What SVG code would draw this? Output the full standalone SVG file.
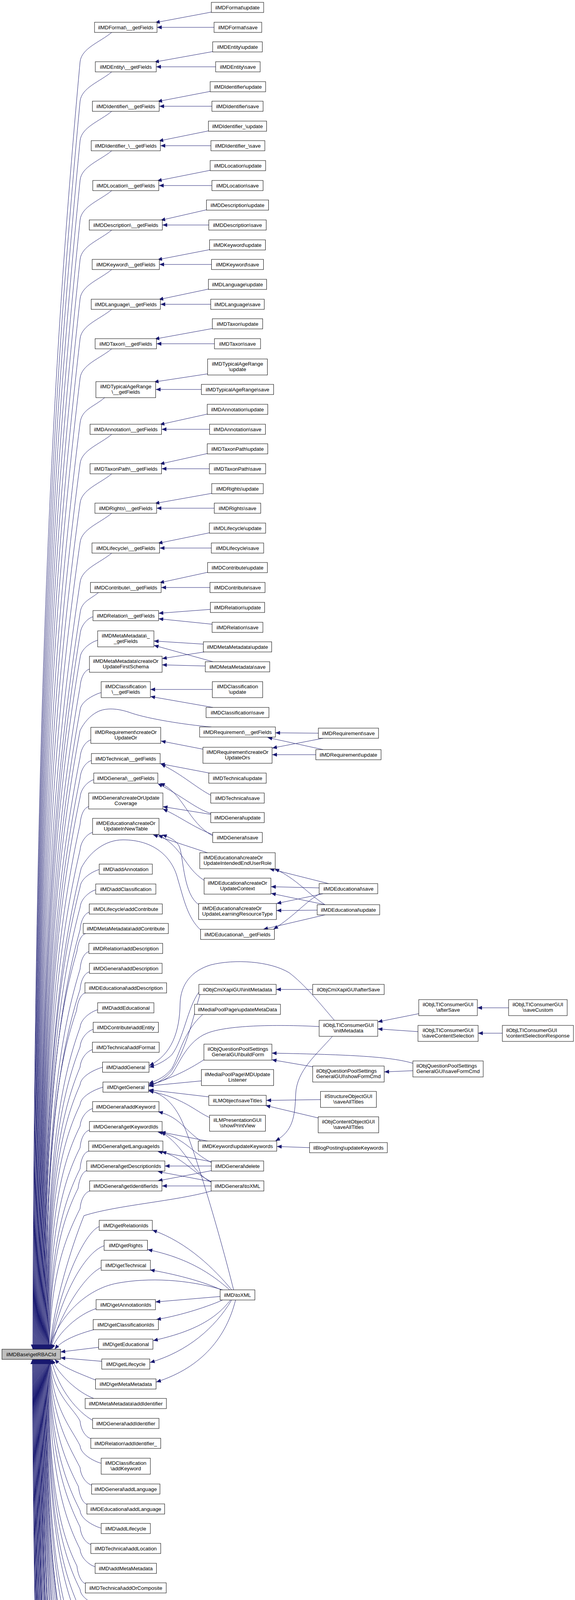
<svg xmlns="http://www.w3.org/2000/svg" width="1472" height="6139" viewBox="0 0 1472 6139">
<style>
rect{fill:#fff;stroke:#000;stroke-width:1}
#root rect{fill:#bfbfbf}
text{font-family:"Liberation Sans",Arial,sans-serif;font-size:13.33px;text-anchor:middle;fill:#000}
text.l{text-anchor:start}
#edges path{fill:none;stroke:#191970;stroke-width:1;marker-end:url(#a)}
</style>
<defs><marker id="a" viewBox="0 0 12 10" refX="12" refY="5" markerWidth="12" markerHeight="10" markerUnits="userSpaceOnUse" orient="auto"><path d="M0,0L12,5L0,10z" fill="#191970"/></marker></defs>
<rect x="0" y="0" width="1472" height="6139" style="fill:#fff;stroke:none"/>
<g id="edges">
<path d="M541,31 L397,58"/><path d="M548,70 L402,70"/>
<path d="M545,132 L395,159"/><path d="M552,171 L400,171"/>
<path d="M538,234 L403,260"/><path d="M543,272 L408,272"/>
<path d="M534,335 L406,361"/><path d="M540,373 L411,373"/>
<path d="M538,436 L402,463"/><path d="M543,475 L407,475"/>
<path d="M529,537 L411,564"/><path d="M535,576 L416,576"/>
<path d="M537,639 L403,665"/><path d="M542,677 L408,677"/>
<path d="M534,740 L406,767"/><path d="M540,779 L411,779"/>
<path d="M544,841 L396,868"/><path d="M549,880 L401,880"/>
<path d="M532,957 L394,978"/><path d="M516,997 L399,997"/>
<path d="M531,1060 L409,1087"/><path d="M537,1099 L414,1099"/>
<path d="M531,1161 L409,1188"/><path d="M536,1200 L414,1200"/>
<path d="M542,1263 L396,1289"/><path d="M549,1301 L401,1301"/>
<path d="M536,1364 L404,1391"/><path d="M541,1403 L409,1403"/>
<path d="M532,1465 L408,1492"/><path d="M538,1504 L413,1504"/>
<path d="M286,83 C256,108 209,123 205,158 C145,817 89,1641 84,3454"/>
<path d="M286,184 C256,209 209,224 205,259 C145,898 90,1697 85,3454"/>
<path d="M286,285 C256,310 209,325 205,360 C145,979 91,1752 86,3454"/>
<path d="M286,386 C256,411 209,426 205,461 C145,1060 92,1808 87,3454"/>
<path d="M286,488 C256,513 209,528 205,563 C145,1141 93,1864 88,3454"/>
<path d="M286,589 C256,614 209,629 205,664 C145,1222 94,1920 89,3454"/>
<path d="M286,690 C256,715 209,730 205,765 C145,1303 95,1975 90,3454"/>
<path d="M286,792 C256,817 209,832 205,867 C145,1384 96,2031 91,3454"/>
<path d="M286,893 C256,918 209,933 205,968 C145,1465 97,2087 92,3454"/>
<path d="M268,1018 C238,1043 209,1048 205,1083 C145,1557 98,2150 93,3454"/>
<path d="M286,1112 C256,1137 209,1152 205,1187 C145,1640 99,2207 94,3454"/>
<path d="M286,1213 C256,1238 209,1253 205,1288 C145,1721 100,2263 95,3454"/>
<path d="M286,1314 C256,1339 209,1354 205,1389 C145,1802 101,2318 96,3454"/>
<path d="M286,1416 C256,1441 209,1456 205,1491 C145,1884 102,2374 97,3454"/>
<path d="M252,1517 C230,1535 208,1540 205,1570 C145,1947 103,2418 98,3454"/>
<path d="M238,1579 C226,1582 207,1599 205,1624 C145,1990 104,2448 99,3454"/>
<path d="M250,1639 C238,1642 207,1659 205,1684 C145,2038 105,2481 100,3454"/>
<path d="M229,1713 C217,1716 207,1733 205,1758 C145,2097 106,2521 101,3454"/>
<path d="M259,1773 C247,1776 207,1793 205,1818 C145,2145 107,2554 102,3454"/>
<path d="M541,1861 C470,1855 380,1840 338,1826 C300,1812 270,1812 250,1822 C230,1832 215,1850 205,1870 C145,2187 108,2583 103,3454"/>
<path d="M233,1894 C221,1897 207,1914 205,1939 C145,2242 109,2621 104,3454"/>
<path d="M234,1947 C222,1950 207,1967 205,1992 C145,2284 110,2650 105,3454"/>
<path d="M240,1996 C228,1999 207,2016 205,2041 C145,2324 111,2677 106,3454"/>
<path d="M227,2065 C215,2068 207,2085 205,2110 C145,2379 112,2715 107,3454"/>
<path d="M237,2131 C225,2134 207,2151 205,2176 C145,2432 113,2751 108,3454"/>
<path d="M514,2381 C480,2350 470,2300 455,2250 C440,2190 390,2150 315,2150 C270,2150 230,2180 208,2222 C148,2468 114,2776 109,3454"/>
<path d="M254,2226 C242,2229 207,2246 205,2271 C145,2508 115,2803 110,3454"/>
<path d="M245,2278 C233,2281 207,2298 205,2323 C145,2549 116,2832 111,3454"/>
<path d="M229,2335 C217,2338 207,2355 205,2380 C145,2595 117,2863 112,3454"/>
<path d="M219,2390 C207,2393 199,2415 197,2435 C137,2639 118,2894 113,3454"/>
<path d="M228,2436 C216,2439 207,2456 205,2481 C145,2676 119,2919 114,3454"/>
<path d="M229,2488 C217,2491 207,2508 205,2533 C145,2717 120,2947 115,3454"/>
<path d="M218,2542 C206,2545 198,2567 196,2587 C136,2760 121,2977 116,3454"/>
<path d="M250,2585 C238,2588 207,2605 205,2630 C145,2795 122,3001 117,3454"/>
<path d="M239,2635 C227,2638 207,2655 205,2680 C145,2835 123,3028 118,3454"/>
<path d="M237,2687 C225,2690 207,2707 205,2732 C145,2876 124,3057 119,3454"/>
<path d="M263,2732 C251,2735 207,2752 205,2777 C145,2912 125,3082 120,3454"/>
<path d="M264,2783 C252,2786 207,2803 205,2828 C145,2953 126,3110 121,3454"/>
<path d="M237,2838 C225,2841 207,2858 205,2883 C148,2997 127,3140 122,3454"/>
<path d="M229,2893 C217,2896 207,2913 205,2938 C153,3041 128,3170 123,3454"/>
<path d="M227,2947 C215,2950 207,2967 205,2992 C159,3084 129,3200 124,3454"/>
<path d="M222,2997 C210,3000 202,3022 200,3042 C159,3124 130,3227 125,3454"/>
<path d="M230,3049 C218,3052 207,3069 205,3094 C169,3166 131,3256 126,3454"/>
<path d="M541,3049 C450,3075 300,3085 215,3112 C180,3200 140,3330 127,3454"/>
<path d="M254,3140 C215,3155 150,3300 128,3454"/>
<path d="M267,3189 C215,3205 150,3330 129,3454"/>
<path d="M259,3245 C215,3265 150,3370 130,3454"/>
<path d="M570,3302 C480,3275 380,3270 300,3285 C220,3300 150,3370 125,3454"/>
<path d="M246,3350 C200,3365 150,3410 132,3454"/>
<path d="M240,3404 C200,3415 160,3430 140,3454"/>
<path d="M253,3449 L155,3461"/>
<path d="M261,3485 L155,3476"/>
<path d="M245,3533 C200,3515 160,3500 140,3480"/>
<path d="M240,3580 C200,3565 150,3520 133,3480"/>
<path d="M237,3636 C200,3615 150,3560 131,3480"/>
<path d="M233,3683 C221,3680 207,3663 205,3638 C189,3606 134,3567 129,3480"/>
<path d="M259,3746 C247,3743 207,3726 205,3701 C183,3657 133,3602 128,3480"/>
<path d="M235,3802 C223,3799 207,3782 205,3757 C177,3702 132,3632 127,3480"/>
<path d="M223,3851 C211,3848 203,3826 201,3806 C168,3741 131,3659 126,3480"/>
<path d="M259,3912 C247,3909 207,3892 205,3867 C166,3790 130,3693 125,3480"/>
<path d="M233,3954 C221,3951 207,3934 205,3909 C162,3823 129,3716 124,3480"/>
<path d="M244,4011 C232,4008 207,3991 205,3966 C156,3869 128,3747 123,3480"/>
<path d="M219,4054 C207,4051 199,4029 197,4009 C144,3903 127,3771 122,3480"/>
<path d="M261,4114 C249,4111 207,4094 205,4069 C146,3951 126,3804 121,3480"/>
<path d="M495,4188 C400,4186 300,4180 254,4168 C230,4160 215,4145 205,4120 C145,3992 125,3832 120,3480"/>
<path d="M230,4204 C218,4201 207,4184 205,4159 C145,4023 124,3853 119,3480"/>
<path d="M489,4268 C420,4276 320,4275 270,4264 C235,4255 212,4235 200,4215 C140,4068 123,3884 118,3480"/>
<path d="M808,4309 C700,4330 500,4335 380,4326 C300,4320 240,4300 200,4256 C140,4101 122,3907 117,3480"/>
<path d="M220,4357 C208,4354 200,4332 198,4312 C138,4146 121,3938 116,3480"/>
<path d="M266,4421 C254,4418 207,4401 205,4376 C145,4197 120,3973 115,3480"/>
<path d="M235,4464 C223,4461 207,4444 205,4419 C145,4231 119,3996 114,3480"/>
<path d="M259,4524 C247,4521 207,4504 205,4479 C145,4279 118,4029 113,3480"/>
<path d="M257,4588 C245,4585 207,4568 205,4543 C145,4330 117,4065 112,3480"/>
<path d="M230,4633 C218,4630 207,4613 205,4588 C145,4366 116,4089 111,3480"/>
<path d="M270,4706 C258,4703 207,4686 205,4661 C145,4425 115,4130 110,3480"/>
<path d="M272,4757 C260,4754 207,4737 205,4712 C145,4466 114,4158 109,3480"/>
<path d="M221,4797 C209,4794 201,4772 199,4752 C139,4498 113,4180 108,3480"/>
<path d="M538,4880 C450,4870 300,4860 240,4845 C215,4838 205,4825 200,4810 C140,4544 112,4212 107,3480"/>
<path d="M230,4895 C218,4892 207,4875 205,4850 C145,4576 111,4234 106,3480"/>
<path d="M221,4946 C209,4943 201,4921 199,4901 C139,4617 110,4262 105,3480"/>
<path d="M522,4998 C430,5015 300,5015 245,5000 C220,4992 208,4980 200,4965 C140,4668 109,4297 104,3480"/>
<path d="M230,5047 C218,5044 207,5027 205,5002 C145,4698 108,4317 103,3480"/>
<path d="M226,5100 C214,5097 206,5075 204,5055 C144,4740 107,4346 102,3480"/>
<path d="M583,5124 C540,5160 420,5190 343,5183 C280,5178 225,5150 200,5120 C140,4792 106,4382 101,3480"/>
<path d="M231,5200 C219,5197 207,5180 205,5155 C145,4820 105,4401 100,3480"/>
<path d="M221,5266 C209,5263 201,5241 199,5221 C139,4873 104,4438 99,3480"/>
<path d="M221,5317 C209,5314 201,5292 199,5272 C139,4914 103,4466 98,3480"/>
<path d="M583,5342 C530,5380 420,5405 343,5403 C280,5400 225,5370 200,5330 C140,4960 102,4498 97,3480"/>
<path d="M230,5418 C218,5415 207,5398 205,5373 C145,4994 101,4521 96,3480"/>
<path d="M533,5487 C450,5495 330,5495 260,5480 C225,5470 208,5455 200,5430 C140,5040 100,4553 95,3480"/>
<path d="M226,5519 C214,5516 206,5494 204,5474 C144,5075 99,4577 94,3480"/>
<path d="M219,5572 C207,5569 199,5547 197,5527 C137,5118 98,4606 93,3480"/>
<path d="M238,5630 C226,5627 207,5610 205,5585 C145,5164 97,4638 92,3480"/>
<path d="M228,5675 C216,5672 207,5655 205,5630 C145,5200 96,4663 91,3480"/>
<path d="M219,5722 C207,5719 199,5697 197,5677 C137,5238 95,4688 90,3480"/>
<path d="M219,5772 C207,5769 199,5747 197,5727 C137,5278 94,4716 89,3480"/>
<path d="M259,5840 C247,5837 207,5820 205,5795 C145,5332 93,4753 88,3480"/>
<path d="M259,5905 C247,5902 207,5885 205,5860 C145,5384 92,4789 87,3480"/>
<path d="M569,5930 C510,5990 380,6000 320,5985 C260,5970 215,5940 200,5900 C140,5416 91,4811 86,3480"/>
<path d="M228,6006 C216,6003 207,5986 205,5961 C145,5465 90,4845 85,3480"/>
<path d="M532,6076 C440,6085 320,6085 270,6070 C230,6058 210,6040 202,6010 C142,5504 89,4872 84,3480"/>
<path d="M251,6115 C239,6112 207,6095 205,6070 C145,5552 88,4905 83,3480"/>
<path d="M539,1560 L406,1570"/><path d="M543,1598 L406,1584"/>
<path d="M521,1649 L394,1641"/><path d="M523,1669 L415,1686"/>
<path d="M545,1694 L394,1652"/><path d="M526,1705 L415,1702"/>
<path d="M544,1765 L385,1765"/><path d="M545,1811 L385,1783"/>
<path d="M815,1877 L705,1876"/><path d="M827,1919 L685,1888"/>
<path d="M827,1890 L697,1915"/><path d="M809,1932 L697,1932"/>
<path d="M520,1918 L412,1897"/>
<path d="M536,1979 L410,1955"/><path d="M540,2036 C500,2015 470,1985 412,1956"/>
<path d="M541,2083 C500,2070 470,2040 404,2006"/><path d="M541,2085 L417,2065"/>
<path d="M545,2140 C480,2105 470,2030 410,2005"/><path d="M545,2137 C490,2115 460,2090 417,2071"/>
<path d="M531,2183 L392,2137"/>
<path d="M523,2254 C470,2220 470,2170 405,2137"/>
<path d="M509,2316 C470,2290 470,2200 460,2170 C455,2155 440,2145 415,2137"/>
<path d="M841,2262 L690,2224"/><path d="M832,2316 C790,2290 760,2250 703,2224"/>
<path d="M817,2273 L694,2270"/><path d="M832,2316 L694,2287"/>
<path d="M827,2288 L708,2313"/><path d="M812,2330 L708,2331"/>
<path d="M832,2342 L674,2379"/><path d="M820,2287 C780,2310 760,2340 700,2379"/>
<path d="M801,2533 L707,2533"/>
<path d="M512,2546 C495,2600 480,2680 440,2740 C425,2760 400,2775 381,2781"/>
<path d="M509,2540 C480,2580 470,2660 440,2700 C425,2715 400,2728 382,2732"/>
<path d="M1302,2580 L1222,2580"/><path d="M1072,2595 L967,2616"/>
<path d="M1070,2641 L967,2634"/><path d="M1286,2645 L1224,2645"/>
<path d="M856,2612 C820,2570 780,2520 740,2490 C690,2460 600,2455 540,2470 C490,2485 462,2520 461,2570 C460,2640 440,2700 382,2728"/>
<path d="M817,2628 C700,2622 580,2625 530,2645 C480,2665 460,2720 440,2750 C425,2765 405,2772 381,2777"/>
<path d="M851,2653 C810,2700 760,2740 757,2800 C755,2860 750,2895 705,2921"/>
<path d="M1057,2722 C1000,2705 900,2700 696,2696"/><path d="M1057,2741 L984,2744"/>
<path d="M801,2731 L696,2713"/><path d="M522,2713 C480,2740 440,2760 381,2778"/>
<path d="M519,2597 C470,2640 460,2700 440,2735 C425,2755 405,2765 381,2774"/>
<path d="M516,2767 L381,2780"/>
<path d="M821,2815 L682,2817"/><path d="M815,2862 L680,2830"/>
<path d="M535,2808 L381,2790"/><path d="M537,2861 C500,2845 470,2810 381,2793"/>
<path d="M793,2938 L709,2935"/><path d="M536,2922 L412,2898"/>
<path d="M514,2921 C470,2890 460,2860 405,2846"/>
<path d="M541,2976 C490,2950 470,2910 404,2898"/><path d="M541,3027 C490,3000 470,2930 412,2898"/>
<path d="M541,2974 L404,2948"/><path d="M541,3025 C490,3000 470,2965 414,2948"/>
<path d="M541,2985 L422,2985"/><path d="M541,3025 L404,2999"/>
<path d="M541,2997 L404,3023"/><path d="M541,3036 L415,3036"/>
<path d="M593,3302 C550,3250 480,3180 390,3149"/>
<path d="M588,3302 C540,3260 480,3220 378,3199"/>
<path d="M566,3302 C520,3280 440,3260 384,3251"/>
<path d="M564,3319 L398,3333"/>
<path d="M570,3328 C520,3350 450,3370 400,3378"/>
<path d="M590,3328 C550,3380 490,3410 392,3432"/>
<path d="M593,3328 C550,3400 480,3460 384,3488"/>
<path d="M603,3328 C580,3420 520,3500 400,3538"/>
<path d="M598,3302 C560,3150 500,2950 470,2880 C450,2830 420,2800 381,2792"/>
<path d="M495,4198 L441,4207"/><path d="M524,4245 L414,4231"/>
<path d="M809,4250 L729,4254"/><path d="M808,4288 L706,4272"/>
<path d="M1069,4330 L970,4345"/><path d="M1299,4382 L1225,4382"/>
<path d="M815,4377 C760,4410 700,4440 638,4468"/><path d="M815,4439 L676,4468"/>
<path d="M811,4481 L694,4481"/><path d="M821,4524 L680,4495"/>
<path d="M1080,4403 C1040,4440 1030,4460 971,4470"/><path d="M1069,4458 L971,4472"/>
<path d="M1076,4505 L971,4491"/><path d="M1306,4491 L1219,4503"/>
<path d="M1306,4538 L1219,4524"/><path d="M1076,4568 L964,4552"/>
<path d="M1082,4624 C1060,4605 1030,4575 964,4557"/>
<path d="M583,4494 C520,4540 480,4590 470,4630 C460,4670 430,4695 375,4702"/>
<path d="M522,4610 C490,4640 470,4680 375,4706"/>
<path d="M794,4598 L698,4598"/><path d="M818,4636 L695,4611"/>
<path d="M800,4687 C770,4660 760,4630 690,4611"/>
<path d="M539,4671 C495,4690 470,4720 450,4730 C430,4740 400,4748 373,4752"/>
<path d="M517,4729 L373,4750"/><path d="M518,4769 L373,4759"/>
<path d="M539,4826 L423,4816"/><path d="M538,4872 C495,4850 470,4830 400,4820"/>
<path d="M524,4926 L439,4920"/><path d="M531,4972 C490,4950 470,4930 410,4921"/>
<path d="M524,4941 L433,4948"/><path d="M522,4977 L433,4970"/>
<path d="M540,5060 L423,5060"/><path d="M540,5099 L404,5074"/>
<path d="M540,5073 L404,5098"/><path d="M540,5111 L418,5111"/>
<path d="M545,5266 L412,5241"/><path d="M530,5320 C495,5300 475,5260 414,5241"/>
<path d="M530,5279 L433,5279"/><path d="M536,5317 L404,5292"/>
<path d="M534,5292 L404,5316"/><path d="M529,5329 L430,5329"/>
<path d="M534,5431 L414,5431"/><path d="M536,5469 L404,5445"/>
<path d="M583,5620 C540,5590 470,5560 410,5546"/>
<path d="M537,5676 C490,5650 470,5600 465,5580 C460,5565 450,5555 420,5546"/>
<path d="M536,5621 L420,5597"/>
<path d="M537,5674 C495,5655 480,5620 465,5610 C450,5600 440,5598 420,5597"/>
<path d="M535,5633 L406,5633"/><path d="M537,5673 L404,5647"/>
<path d="M536,5645 L404,5671"/><path d="M537,5684 L416,5684"/>
<path d="M535,5637 C490,5660 470,5700 420,5722"/><path d="M537,5697 L416,5722"/>
<path d="M520,5752 L433,5746"/>
<path d="M535,5640 C490,5680 470,5740 420,5772"/>
<path d="M565,5697 C520,5730 480,5750 425,5772"/>
<path d="M520,5768 L431,5776"/>
<path d="M544,5844 L385,5844"/><path d="M545,5895 L385,5862"/>
<path d="M545,5858 L385,5891"/><path d="M544,5909 L385,5909"/>
<path d="M534,6019 L416,6019"/><path d="M536,6057 L404,6033"/>
</g>
<g id="fmt_u"><rect x="541" y="6" width="134" height="26"/><text x="608" y="23.5">ilMDFormat\update</text></g>
<g id="fmt_g"><rect x="242" y="57" width="160" height="26"/><text x="322" y="74.5">ilMDFormat\__getFields</text></g>
<g id="fmt_s"><rect x="548" y="57" width="122" height="26"/><text x="609" y="74.5">ilMDFormat\save</text></g>
<g id="ent_u"><rect x="544.5" y="107" width="127" height="26"/><text x="608" y="124.5">ilMDEntity\update</text></g>
<g id="ent_g"><rect x="244" y="158" width="156" height="26"/><text x="322" y="175.5">ilMDEntity\__getFields</text></g>
<g id="ent_s"><rect x="552" y="158" width="114" height="26"/><text x="609" y="175.5">ilMDEntity\save</text></g>
<g id="idf_u"><rect x="538" y="209" width="142" height="26"/><text x="609" y="226.5">ilMDIdentifier\update</text></g>
<g id="idf_g"><rect x="236.5" y="259" width="171" height="26"/><text x="322" y="276.5">ilMDIdentifier\__getFields</text></g>
<g id="idf_s"><rect x="542.5" y="259" width="131" height="26"/><text x="608" y="276.5">ilMDIdentifier\save</text></g>
<g id="id2_u"><rect x="533.5" y="310" width="149" height="26"/><text x="608" y="327.5">ilMDIdentifier_\update</text></g>
<g id="id2_g"><rect x="233.5" y="360" width="177" height="26"/><text x="322" y="377.5">ilMDIdentifier_\__getFields</text></g>
<g id="id2_s"><rect x="540" y="360" width="138" height="26"/><text x="609" y="377.5">ilMDIdentifier_\save</text></g>
<g id="loc_u"><rect x="538" y="411" width="142" height="26"/><text x="609" y="428.5">ilMDLocation\update</text></g>
<g id="loc_g"><rect x="237.5" y="462" width="169" height="26"/><text x="322" y="479.5">ilMDLocation\__getFields</text></g>
<g id="loc_s"><rect x="542.5" y="462" width="131" height="26"/><text x="608" y="479.5">ilMDLocation\save</text></g>
<g id="des_u"><rect x="528.5" y="512" width="159" height="26"/><text x="608" y="529.5">ilMDDescription\update</text></g>
<g id="des_g"><rect x="228.5" y="563" width="187" height="26"/><text x="322" y="580.5">ilMDDescription\__getFields</text></g>
<g id="des_s"><rect x="534.5" y="563" width="147" height="26"/><text x="608" y="580.5">ilMDDescription\save</text></g>
<g id="key_u"><rect x="536.5" y="614" width="143" height="26"/><text x="608" y="631.5">ilMDKeyword\update</text></g>
<g id="key_g"><rect x="236" y="664" width="172" height="26"/><text x="322" y="681.5">ilMDKeyword\__getFields</text></g>
<g id="key_s"><rect x="541.5" y="664" width="133" height="26"/><text x="608" y="681.5">ilMDKeyword\save</text></g>
<g id="lan_u"><rect x="533.5" y="715" width="149" height="26"/><text x="608" y="732.5">ilMDLanguage\update</text></g>
<g id="lan_g"><rect x="233.5" y="766" width="177" height="26"/><text x="322" y="783.5">ilMDLanguage\__getFields</text></g>
<g id="lan_s"><rect x="539.5" y="766" width="137" height="26"/><text x="608" y="783.5">ilMDLanguage\save</text></g>
<g id="tax_u"><rect x="543.5" y="816" width="129" height="26"/><text x="608" y="833.5">ilMDTaxon\update</text></g>
<g id="tax_g"><rect x="243.5" y="867" width="157" height="26"/><text x="322" y="884.5">ilMDTaxon\__getFields</text></g>
<g id="tax_s"><rect x="549" y="867" width="118" height="26"/><text x="608" y="884.5">ilMDTaxon\save</text></g>
<g id="tar_u"><rect x="531.5" y="919" width="153" height="41"/><text x="608" y="936">ilMDTypicalAgeRange</text><text x="608" y="950">\update</text></g>
<g id="tar_g"><rect x="245.5" y="977" width="153" height="41"/><text x="322" y="994">ilMDTypicalAgeRange</text><text x="322" y="1008">\__getFields</text></g>
<g id="tar_s"><rect x="515.5" y="984" width="185" height="26"/><text x="608" y="1001.5">ilMDTypicalAgeRange\save</text></g>
<g id="ann_u"><rect x="530.5" y="1035" width="155" height="26"/><text x="608" y="1052.5">ilMDAnnotation\update</text></g>
<g id="ann_g"><rect x="230.5" y="1086" width="183" height="26"/><text x="322" y="1103.5">ilMDAnnotation\__getFields</text></g>
<g id="ann_s"><rect x="536.5" y="1086" width="143" height="26"/><text x="608" y="1103.5">ilMDAnnotation\save</text></g>
<g id="tp_u"><rect x="530.5" y="1136" width="155" height="26"/><text x="608" y="1153.5">ilMDTaxonPath\update</text></g>
<g id="tp_g"><rect x="230.5" y="1187" width="183" height="26"/><text x="322" y="1204.5">ilMDTaxonPath\__getFields</text></g>
<g id="tp_s"><rect x="536" y="1187" width="144" height="26"/><text x="608" y="1204.5">ilMDTaxonPath\save</text></g>
<g id="rig_u"><rect x="542" y="1238" width="132" height="26"/><text x="608" y="1255.5">ilMDRights\update</text></g>
<g id="rig_g"><rect x="243" y="1288" width="158" height="26"/><text x="322" y="1305.5">ilMDRights\__getFields</text></g>
<g id="rig_s"><rect x="548.5" y="1288" width="119" height="26"/><text x="608" y="1305.5">ilMDRights\save</text></g>
<g id="lif_u"><rect x="536" y="1339" width="144" height="26"/><text x="608" y="1356.5">ilMDLifecycle\update</text></g>
<g id="lif_g"><rect x="235.5" y="1390" width="173" height="26"/><text x="322" y="1407.5">ilMDLifecycle\__getFields</text></g>
<g id="lif_s"><rect x="541" y="1390" width="134" height="26"/><text x="608" y="1407.5">ilMDLifecycle\save</text></g>
<g id="con_u"><rect x="531.5" y="1440" width="153" height="26"/><text x="608" y="1457.5">ilMDContribute\update</text></g>
<g id="con_g"><rect x="231.5" y="1491" width="181" height="26"/><text x="322" y="1508.5">ilMDContribute\__getFields</text></g>
<g id="con_s"><rect x="537.5" y="1491" width="141" height="26"/><text x="608" y="1508.5">ilMDContribute\save</text></g>
<g id="rel_u"><rect x="538.5" y="1542" width="139" height="26"/><text x="608" y="1559.5">ilMDRelation\update</text></g>
<g id="rel_g"><rect x="238" y="1563" width="168" height="26"/><text x="322" y="1580.5">ilMDRelation\__getFields</text></g>
<g id="rel_s"><rect x="543" y="1593" width="130" height="26"/><text x="608" y="1610.5">ilMDRelation\save</text></g>
<g id="mm_g"><rect x="250" y="1615" width="144" height="41"/><text x="322" y="1632">ilMDMetaMetadata\_</text><text x="322" y="1646">_getFields</text></g>
<g id="mm_u"><rect x="520.5" y="1643" width="175" height="26"/><text x="608" y="1660.5">ilMDMetaMetadata\update</text></g>
<g id="mm_c"><rect x="229" y="1680" width="186" height="41"/><text x="322" y="1697">ilMDMetaMetadata\createOr</text><text x="322" y="1711">UpdateFirstSchema</text></g>
<g id="mm_s"><rect x="525.5" y="1694" width="165" height="26"/><text x="608" y="1711.5">ilMDMetaMetadata\save</text></g>
<g id="cl_g"><rect x="259" y="1745" width="126" height="41"/><text x="322" y="1762">ilMDClassification</text><text x="322" y="1776">\__getFields</text></g>
<g id="cl_u"><rect x="543.5" y="1745" width="129" height="41"/><text x="608" y="1762">ilMDClassification</text><text x="608" y="1776">\update</text></g>
<g id="cl_s"><rect x="527.5" y="1811" width="161" height="26"/><text x="608" y="1828.5">ilMDClassification\save</text></g>
<g id="rq_g"><rect x="511" y="1861" width="194" height="26"/><text x="608" y="1878.5">ilMDRequirement\__getFields</text></g>
<g id="rq_s"><rect x="815" y="1864" width="154" height="26"/><text x="892" y="1881.5">ilMDRequirement\save</text></g>
<g id="rq_c"><rect x="232.5" y="1862" width="179" height="41"/><text x="322" y="1879">ilMDRequirement\createOr</text><text x="322" y="1893">UpdateOr</text></g>
<g id="rq_cs"><rect x="519.5" y="1913" width="177" height="41"/><text x="608" y="1930">ilMDRequirement\createOr</text><text x="608" y="1944">UpdateOrs</text></g>
<g id="rq_u"><rect x="808.5" y="1919" width="167" height="26"/><text x="892" y="1936.5">ilMDRequirement\update</text></g>
<g id="te_g"><rect x="234" y="1929" width="176" height="26"/><text x="322" y="1946.5">ilMDTechnical\__getFields</text></g>
<g id="te_u"><rect x="534.5" y="1979" width="147" height="26"/><text x="608" y="1996.5">ilMDTechnical\update</text></g>
<g id="ge_g"><rect x="240" y="1979" width="164" height="26"/><text x="322" y="1996.5">ilMDGeneral\__getFields</text></g>
<g id="te_s"><rect x="539.5" y="2030" width="137" height="26"/><text x="608" y="2047.5">ilMDTechnical\save</text></g>
<g id="ge_cv"><rect x="227" y="2030" width="190" height="41"/><text x="322" y="2047">ilMDGeneral\createOrUpdate</text><text x="322" y="2061">Coverage</text></g>
<g id="ge_u"><rect x="539.5" y="2080" width="137" height="26"/><text x="608" y="2097.5">ilMDGeneral\update</text></g>
<g id="ed_nt"><rect x="237" y="2095" width="170" height="41"/><text x="322" y="2112">ilMDEducational\createOr</text><text x="322" y="2126">UpdateInNewTable</text></g>
<g id="ge_s"><rect x="544.5" y="2131" width="127" height="26"/><text x="608" y="2148.5">ilMDGeneral\save</text></g>
<g id="ed_ie"><rect x="511.5" y="2183" width="193" height="41"/><text class="l" x="521" y="2200">ilMDEducational\createOr</text><text x="608" y="2214">UpdateIntendedEndUserRole</text></g>
<g id="md_addann"><rect x="254" y="2212" width="136" height="26"/><text x="322" y="2229.5">ilMD\addAnnotation</text></g>
<g id="ed_ctx"><rect x="522.5" y="2248" width="171" height="41"/><text x="608" y="2265">ilMDEducational\createOr</text><text x="608" y="2279">UpdateContext</text></g>
<g id="ed_s"><rect x="817" y="2262" width="150" height="26"/><text x="892" y="2279.5">ilMDEducational\save</text></g>
<g id="md_addcls"><rect x="245" y="2263" width="154" height="26"/><text x="322" y="2280.5">ilMD\addClassification</text></g>
<g id="lc_addcon"><rect x="228.5" y="2314" width="187" height="26"/><text x="322" y="2331.5">ilMDLifecycle\addContribute</text></g>
<g id="ed_lrt"><rect x="508.5" y="2313" width="199" height="41"/><text class="l" x="518" y="2330">ilMDEducational\createOr</text><text x="608" y="2344">UpdateLearningResourceType</text></g>
<g id="ed_u"><rect x="812" y="2316" width="160" height="26"/><text x="892" y="2333.5">ilMDEducational\update</text></g>
<g id="mm_addcon"><rect x="213" y="2364" width="218" height="26"/><text x="322" y="2381.5">ilMDMetaMetadata\addContribute</text></g>
<g id="ed_g"><rect x="513.5" y="2379" width="189" height="26"/><text x="608" y="2396.5">ilMDEducational\__getFields</text></g>
<g id="rel_adddes"><rect x="227.5" y="2415" width="189" height="26"/><text x="322" y="2432.5">ilMDRelation\addDescription</text></g>
<g id="ge_adddes"><rect x="229" y="2466" width="186" height="26"/><text x="322" y="2483.5">ilMDGeneral\addDescription</text></g>
<g id="ed_adddes"><rect x="217.5" y="2516" width="209" height="26"/><text x="322" y="2533.5">ilMDEducational\addDescription</text></g>
<g id="cmi_init"><rect x="509" y="2520" width="198" height="26"/><text x="608" y="2537.5">ilObjCmiXapiGUI\initMetadata</text></g>
<g id="cmi_after"><rect x="800.5" y="2520" width="183" height="26"/><text x="892" y="2537.5">ilObjCmiXapiGUI\afterSave</text></g>
<g id="md_addedu"><rect x="250" y="2567" width="144" height="26"/><text x="322" y="2584.5">ilMD\addEducational</text></g>
<g id="mpp_upd"><rect x="498" y="2571" width="220" height="26"/><text x="608" y="2588.5">ilMediaPoolPage\updateMetaData</text></g>
<g id="lti_after"><rect x="1072" y="2559" width="150" height="41"/><text x="1147" y="2576">ilObjLTIConsumerGUI</text><text x="1147" y="2590">\afterSave</text></g>
<g id="lti_savec"><rect x="1302" y="2559" width="150" height="41"/><text x="1377" y="2576">ilObjLTIConsumerGUI</text><text x="1377" y="2590">\saveCustom</text></g>
<g id="lti_init"><rect x="817" y="2612" width="150" height="41"/><text x="892" y="2629">ilObjLTIConsumerGUI</text><text x="892" y="2643">\initMetadata</text></g>
<g id="con_addent"><rect x="238.5" y="2617" width="167" height="26"/><text x="322" y="2634.5">ilMDContribute\addEntity</text></g>
<g id="lti_scs"><rect x="1070" y="2625" width="154" height="41"/><text x="1147" y="2642">ilObjLTIConsumerGUI</text><text x="1147" y="2656">\saveContentSelection</text></g>
<g id="lti_csr"><rect x="1286" y="2625" width="182" height="41"/><text class="l" x="1296" y="2642">ilObjLTIConsumerGUI</text><text x="1377" y="2656">\contentSelectionResponse</text></g>
<g id="te_addfmt"><rect x="236.5" y="2668" width="171" height="26"/><text x="322" y="2685.5">ilMDTechnical\addFormat</text></g>
<g id="qps_build"><rect x="522" y="2673" width="174" height="41"/><text x="609" y="2690">ilObjQuestionPoolSettings</text><text x="609" y="2704">GeneralGUI\buildForm</text></g>
<g id="qps_save"><rect x="1057" y="2716" width="180" height="41"/><text class="l" x="1066" y="2733">ilObjQuestionPoolSettings</text><text x="1147" y="2747">GeneralGUI\saveFormCmd</text></g>
<g id="md_addgen"><rect x="262.5" y="2719" width="119" height="26"/><text x="322" y="2736.5">ilMD\addGeneral</text></g>
<g id="qps_show"><rect x="800.5" y="2729" width="183" height="41"/><text class="l" x="809.5" y="2746">ilObjQuestionPoolSettings</text><text x="892" y="2760">GeneralGUI\showFormCmd</text></g>
<g id="mpp_list"><rect x="515.5" y="2738" width="185" height="41"/><text x="608" y="2755">ilMediaPoolPage\MDUpdate</text><text x="608" y="2769">Listener</text></g>
<g id="md_getgen"><rect x="263.5" y="2770" width="117" height="26"/><text x="322" y="2787.5">ilMD\getGeneral</text></g>
<g id="so_sat"><rect x="820.5" y="2794" width="143" height="41"/><text x="892" y="2811">ilStructureObjectGUI</text><text x="892" y="2825">\saveAllTitles</text></g>
<g id="lm_st"><rect x="534.5" y="2804" width="147" height="26"/><text x="608" y="2821.5">ilLMObject\saveTitles</text></g>
<g id="ge_addkey"><rect x="237" y="2820" width="170" height="26"/><text x="322" y="2837.5">ilMDGeneral\addKeyword</text></g>
<g id="lmp_spv"><rect x="536.5" y="2855" width="143" height="41"/><text x="608" y="2872">ilLMPresentationGUI</text><text x="608" y="2886">\showPrintView</text></g>
<g id="co_sat"><rect x="814.5" y="2859" width="155" height="41"/><text x="892" y="2876">ilObjContentObjectGUI</text><text x="892" y="2890">\saveAllTitles</text></g>
<g id="ge_gki"><rect x="229" y="2871" width="186" height="26"/><text x="322" y="2888.5">ilMDGeneral\getKeywordIds</text></g>
<g id="key_uk"><rect x="507.5" y="2921" width="201" height="26"/><text x="608" y="2938.5">ilMDKeyword\updateKeywords</text></g>
<g id="blog_uk"><rect x="792.5" y="2925" width="199" height="26"/><text x="892" y="2942.5">ilBlogPosting\updateKeywords</text></g>
<g id="ge_gli"><rect x="227" y="2921" width="190" height="26"/><text x="322" y="2938.5">ilMDGeneral\getLanguageIds</text></g>
<g id="ge_gdi"><rect x="222" y="2972" width="200" height="26"/><text x="322" y="2989.5">ilMDGeneral\getDescriptionIds</text></g>
<g id="ge_del"><rect x="541" y="2972" width="134" height="26"/><text x="608" y="2989.5">ilMDGeneral\delete</text></g>
<g id="ge_gii"><rect x="229.5" y="3023" width="185" height="26"/><text x="322" y="3040.5">ilMDGeneral\getIdentifierIds</text></g>
<g id="ge_xml"><rect x="540.5" y="3023" width="135" height="26"/><text x="608" y="3040.5">ilMDGeneral\toXML</text></g>
<g id="md_grel"><rect x="254" y="3124" width="136" height="26"/><text x="322" y="3141.5">ilMD\getRelationIds</text></g>
<g id="md_grig"><rect x="266.5" y="3175" width="111" height="26"/><text x="322" y="3192.5">ilMD\getRights</text></g>
<g id="md_gtec"><rect x="259" y="3226" width="126" height="26"/><text x="322" y="3243.5">ilMD\getTechnical</text></g>
<g id="md_xml"><rect x="563.5" y="3302" width="89" height="26"/><text x="608" y="3319.5">ilMD\toXML</text></g>
<g id="md_gann"><rect x="246" y="3327" width="152" height="26"/><text x="322" y="3344.5">ilMD\getAnnotationIds</text></g>
<g id="md_gcls"><rect x="238.5" y="3378" width="167" height="26"/><text x="322" y="3395.5">ilMD\getClassificationIds</text></g>
<g id="md_gedu"><rect x="252.5" y="3428" width="139" height="26"/><text x="322" y="3445.5">ilMD\getEducational</text></g>
<g id="root"><rect x="5" y="3454" width="150" height="26"/><text x="80" y="3471.5">ilMDBase\getRBACId</text></g>
<g id="md_glif"><rect x="260.5" y="3479" width="123" height="26"/><text x="322" y="3496.5">ilMD\getLifecycle</text></g>
<g id="md_gmm"><rect x="244.5" y="3530" width="155" height="26"/><text x="322" y="3547.5">ilMD\getMetaMetadata</text></g>
<g id="mm_addid"><rect x="218" y="3580" width="208" height="26"/><text x="322" y="3597.5">ilMDMetaMetadata\addIdentifier</text></g>
<g id="ge_addid"><rect x="237" y="3631" width="170" height="26"/><text x="322" y="3648.5">ilMDGeneral\addIdentifier</text></g>
<g id="rel_addid"><rect x="232.5" y="3682" width="179" height="26"/><text x="322" y="3699.5">ilMDRelation\addIdentifier_</text></g>
<g id="cl_addkey"><rect x="259" y="3733" width="126" height="41"/><text x="322" y="3750">ilMDClassification</text><text x="322" y="3764">\addKeyword</text></g>
<g id="ge_addlan"><rect x="234.5" y="3799" width="175" height="26"/><text x="322" y="3816.5">ilMDGeneral\addLanguage</text></g>
<g id="ed_addlan"><rect x="222.5" y="3850" width="199" height="26"/><text x="322" y="3867.5">ilMDEducational\addLanguage</text></g>
<g id="md_addlc"><rect x="259" y="3900" width="126" height="26"/><text x="322" y="3917.5">ilMD\addLifecycle</text></g>
<g id="te_addloc"><rect x="232.5" y="3951" width="179" height="26"/><text x="322" y="3968.5">ilMDTechnical\addLocation</text></g>
<g id="md_addmm"><rect x="243.5" y="4002" width="157" height="26"/><text x="322" y="4019.5">ilMD\addMetaMetadata</text></g>
<g id="te_addoc"><rect x="218.5" y="4052" width="207" height="26"/><text x="322" y="4069.5">ilMDTechnical\addOrComposite</text></g>
<g id="md_addrel"><rect x="260.5" y="4103" width="123" height="26"/><text x="322" y="4120.5">ilMD\addRelation</text></g>
<g id="oc_addreq"><rect x="495" y="4174" width="226" height="26"/><text x="608" y="4191.5">ilMDOrComposite\addRequirement</text></g>
<g id="oc_goci"><rect x="203.5" y="4204" width="237" height="26"/><text x="322" y="4221.5">ilMDOrComposite\getOrCompositeId</text></g>
<g id="oc_del"><rect x="809" y="4235" width="166" height="26"/><text x="892" y="4252.5">ilMDOrComposite\delete</text></g>
<g id="oc_gri"><rect x="489" y="4245" width="240" height="26"/><text x="609" y="4262.5">ilMDOrComposite\getRequirementIds</text></g>
<g id="oc_xml"><rect x="807.5" y="4285" width="169" height="26"/><text x="892" y="4302.5">ilMDOrComposite\toXML</text></g>
<g id="co_cch"><rect x="1069" y="4297" width="156" height="41"/><text x="1147" y="4314">ilObjContentObjectGUI</text><text x="1147" y="4328">\copyChapter</text></g>
<g id="co_ci"><rect x="814.5" y="4337" width="155" height="41"/><text x="892" y="4354">ilObjContentObjectGUI</text><text x="892" y="4368">\copyItems</text></g>
<g id="te_addreq"><rect x="219.5" y="4357" width="205" height="26"/><text x="322" y="4374.5">ilMDTechnical\addRequirement</text></g>
<g id="co_cut"><rect x="1069" y="4362" width="156" height="41"/><text x="1147" y="4379">ilObjContentObjectGUI</text><text x="1147" y="4393">\cutItems</text></g>
<g id="co_cutch"><rect x="1299" y="4362" width="156" height="41"/><text x="1377" y="4379">ilObjContentObjectGUI</text><text x="1377" y="4393">\cutChapter</text></g>
<g id="co_cp"><rect x="814.5" y="4402" width="155" height="41"/><text x="892" y="4419">ilObjContentObjectGUI</text><text x="892" y="4433">\copyPage</text></g>
<g id="md_addrig"><rect x="266" y="4407" width="112" height="26"/><text x="322" y="4424.5">ilMD\addRights</text></g>
<g id="co_mp"><rect x="1069" y="4428" width="156" height="41"/><text x="1147" y="4445">ilObjContentObjectGUI</text><text x="1147" y="4459">\movePage</text></g>
<g id="tp_addtax"><rect x="235" y="4458" width="174" height="26"/><text x="322" y="4475.5">ilMDTaxonPath\addTaxon</text></g>
<g id="so_cutp"><rect x="1306" y="4461" width="142" height="41"/><text x="1377" y="4478">ilStructureObjectGUI</text><text x="1377" y="4492">\cutPage</text></g>
<g id="lm_cc"><rect x="522.5" y="4468" width="171" height="26"/><text x="608" y="4485.5">ilLMObject\clipboardCopy</text></g>
<g id="lm_cut"><rect x="811" y="4468" width="160" height="26"/><text x="891" y="4485.5">ilLMObject\clipboardCut</text></g>
<g id="so_cut"><rect x="1075.5" y="4493" width="143" height="41"/><text x="1147" y="4510">ilStructureObjectGUI</text><text x="1147" y="4524">\cutItems</text></g>
<g id="cl_addtp"><rect x="259" y="4509" width="126" height="41"/><text x="322" y="4526">ilMDClassification</text><text x="322" y="4540">\addTaxonPath</text></g>
<g id="so_ci"><rect x="820.5" y="4520" width="143" height="41"/><text x="892" y="4537">ilStructureObjectGUI</text><text x="892" y="4551">\copyItems</text></g>
<g id="so_cutch"><rect x="1306" y="4526" width="142" height="41"/><text x="1377" y="4543">ilStructureObjectGUI</text><text x="1377" y="4557">\cutChapter</text></g>
<g id="so_cp"><rect x="1075.5" y="4558" width="143" height="41"/><text x="1147" y="4575">ilStructureObjectGUI</text><text x="1147" y="4589">\copyPage</text></g>
<g id="md_addtec"><rect x="257" y="4575" width="130" height="26"/><text x="322" y="4592.5">ilMD\addTechnical</text></g>
<g id="gt_ct"><rect x="520" y="4585" width="178" height="26"/><text x="609" y="4602.5">ilGlossaryTerm\_copyTerm</text></g>
<g id="gg_pt"><rect x="794" y="4585" width="198" height="26"/><text x="893" y="4602.5">ilObjGlossaryGUI\pasteTerms</text></g>
<g id="so_cch"><rect x="1075.5" y="4624" width="143" height="41"/><text x="1147" y="4641">ilStructureObjectGUI</text><text x="1147" y="4655">\copyChapter</text></g>
<g id="ed_addtar"><rect x="229.5" y="4626" width="185" height="41"/><text x="322" y="4643">ilMDEducational\addTypical</text><text x="322" y="4657">AgeRange</text></g>
<g id="og_clone"><rect x="805.5" y="4636" width="173" height="26"/><text x="892" y="4653.5">ilObjGlossary\cloneObject</text></g>
<g id="wl_hbt"><rect x="539" y="4637" width="140" height="41"/><text x="609" y="4654">ilWebLinkXmlParser</text><text x="609" y="4668">\handlerBeginTag</text></g>
<g id="ilias_ct"><rect x="777" y="4687" width="232" height="56"/><text class="l" x="786" y="4703.5">ILIAS\Glossary\Term</text><text class="l" x="786" y="4718.5">\TermManager\copyTermFromOther</text><text x="893" y="4733.5">Glossary</text></g>
<g id="md_clone"><rect x="269.5" y="4692" width="105" height="26"/><text x="322" y="4709.5">ilMD\cloneMD</text></g>
<g id="mpp_del"><rect x="502" y="4703" width="214" height="26"/><text x="609" y="4720.5">ilMediaPoolPage\deleteMetaData</text></g>
<g id="md_delall"><rect x="271.5" y="4743" width="101" height="26"/><text x="322" y="4760.5">ilMD\deleteAll</text></g>
<g id="soap"><rect x="518" y="4754" width="182" height="41"/><text x="609" y="4771">ilSoapCourseAdministration</text><text x="609" y="4785">\excludeCourseMember</text></g>
<g id="lc_gci"><rect x="221" y="4794" width="202" height="26"/><text x="322" y="4811.5">ilMDLifecycle\getContributeIds</text></g>
<g id="lc_del"><rect x="539" y="4820" width="140" height="26"/><text x="609" y="4837.5">ilMDLifecycle\delete</text></g>
<g id="lc_xml"><rect x="538" y="4871" width="142" height="26"/><text x="609" y="4888.5">ilMDLifecycle\toXML</text></g>
<g id="mm_gci"><rect x="205.5" y="4895" width="233" height="26"/><text x="322" y="4912.5">ilMDMetaMetadata\getContributeIds</text></g>
<g id="mm_del"><rect x="524" y="4922" width="170" height="26"/><text x="609" y="4939.5">ilMDMetaMetadata\delete</text></g>
<g id="mm_gii"><rect x="211.5" y="4946" width="221" height="26"/><text x="322" y="4963.5">ilMDMetaMetadata\getIdentifierIds</text></g>
<g id="mm_xml"><rect x="522" y="4972" width="174" height="26"/><text x="609" y="4989.5">ilMDMetaMetadata\toXML</text></g>
<g id="rel_gdi"><rect x="221" y="5047" width="202" height="26"/><text x="322" y="5064.5">ilMDRelation\getDescriptionIds</text></g>
<g id="rel_del"><rect x="539.5" y="5047" width="137" height="26"/><text x="608" y="5064.5">ilMDRelation\delete</text></g>
<g id="rel_gii"><rect x="226" y="5098" width="192" height="26"/><text x="322" y="5115.5">ilMDRelation\getIdentifier_Ids</text></g>
<g id="rel_xml"><rect x="539.5" y="5098" width="137" height="26"/><text x="608" y="5115.5">ilMDRelation\toXML</text></g>
<g id="ed_gtar"><rect x="231" y="5200" width="182" height="41"/><text x="322" y="5217">ilMDEducational\getTypical</text><text x="322" y="5231">AgeRangeIds</text></g>
<g id="ed_gdi"><rect x="211.5" y="5266" width="221" height="26"/><text x="322" y="5283.5">ilMDEducational\getDescriptionIds</text></g>
<g id="ed_del"><rect x="529.5" y="5266" width="157" height="26"/><text x="608" y="5283.5">ilMDEducational\delete</text></g>
<g id="ed_gli"><rect x="214.5" y="5316" width="215" height="26"/><text x="322" y="5333.5">ilMDEducational\getLanguageIds</text></g>
<g id="ed_xml"><rect x="528.5" y="5316" width="159" height="26"/><text x="608" y="5333.5">ilMDEducational\toXML</text></g>
<g id="con_gei"><rect x="230" y="5418" width="184" height="26"/><text x="322" y="5435.5">ilMDContribute\getEntityIds</text></g>
<g id="con_del"><rect x="533.5" y="5418" width="149" height="26"/><text x="608" y="5435.5">ilMDContribute\delete</text></g>
<g id="con_xml"><rect x="532.5" y="5468" width="151" height="26"/><text x="608" y="5485.5">ilMDContribute\toXML</text></g>
<g id="te_gli"><rect x="225.5" y="5519" width="193" height="26"/><text x="322" y="5536.5">ilMDTechnical\getLocationIds</text></g>
<g id="te_goc"><rect x="219" y="5570" width="206" height="26"/><text x="322" y="5587.5">ilMDTechnical\getOrComposite</text></g>
<g id="te_gf"><rect x="238" y="5620" width="168" height="26"/><text x="322" y="5637.5">ilMDTechnical\getFormat</text></g>
<g id="te_xml"><rect x="534.5" y="5620" width="147" height="26"/><text x="608" y="5637.5">ilMDTechnical\toXML</text></g>
<g id="te_gfi"><rect x="228.5" y="5671" width="187" height="26"/><text x="322" y="5688.5">ilMDTechnical\getFormatIds</text></g>
<g id="te_del"><rect x="536.5" y="5671" width="143" height="26"/><text x="608" y="5688.5">ilMDTechnical\delete</text></g>
<g id="te_goci"><rect x="211.5" y="5722" width="221" height="26"/><text x="322" y="5739.5">ilMDTechnical\getOrCompositeIds</text></g>
<g id="te_gps"><rect x="519.5" y="5740" width="177" height="41"/><text x="608" y="5757">ilMDTechnical\getPossible</text><text x="608" y="5771">Subelements</text></g>
<g id="te_gri"><rect x="213" y="5772" width="218" height="26"/><text x="322" y="5789.5">ilMDTechnical\getRequirementIds</text></g>
<g id="cl_gki"><rect x="259" y="5824" width="126" height="41"/><text x="322" y="5841">ilMDClassification</text><text x="322" y="5855">\getKeywordIds</text></g>
<g id="cl_del"><rect x="543.5" y="5824" width="129" height="41"/><text x="608" y="5841">ilMDClassification</text><text x="608" y="5855">\delete</text></g>
<g id="cl_gtp"><rect x="259" y="5889" width="126" height="41"/><text x="322" y="5906">ilMDClassification</text><text x="322" y="5920">\getTaxonPathIds</text></g>
<g id="cl_xml"><rect x="543.5" y="5889" width="129" height="41"/><text x="608" y="5906">ilMDClassification</text><text x="608" y="5920">\toXML</text></g>
<g id="tp_gti"><rect x="228.5" y="6006" width="187" height="26"/><text x="322" y="6023.5">ilMDTaxonPath\getTaxonIds</text></g>
<g id="tp_del"><rect x="534" y="6006" width="150" height="26"/><text x="609" y="6023.5">ilMDTaxonPath\delete</text></g>
<g id="tp_xml"><rect x="532" y="6056" width="154" height="26"/><text x="609" y="6073.5">ilMDTaxonPath\toXML</text></g>
<g id="id_xml"><rect x="251" y="6107" width="142" height="26"/><text x="322" y="6124.5">ilMDIdentifier\toXML</text></g>
</svg>
